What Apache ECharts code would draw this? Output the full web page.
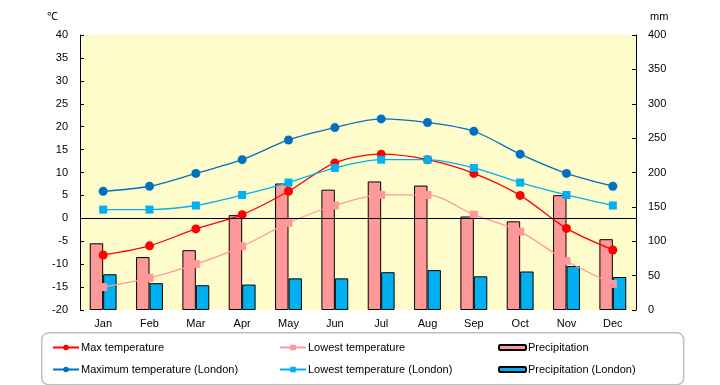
<!DOCTYPE html>
<html><head><meta charset="utf-8">
<script src="https://cdn.jsdelivr.net/npm/echarts@6/dist/echarts.min.js"></script>
<style>html,body{margin:0;padding:0;background:#fff}#c{width:720px;height:385px}</style>
</head><body><div id="c"></div>
<script>
const months = ['Jan','Feb','Mar','Apr','May','Jun','Jul','Aug','Sep','Oct','Nov','Dec'];
const maxTemp = [-8, -6, -2.3, 0.8, 5.9, 12.1, 14.0, 12.8, 9.8, 5.0, -2.2, -6.9];
const lowTemp = [-15, -13, -10, -6.1, -1.0, 2.8, 5.1, 5.1, 0.8, -2.9, -9.3, -14.3];
const precip = [97, 77, 87, 138, 184, 175, 187, 181, 136, 129, 167, 103];
const maxLondon = [5.9, 7.0, 9.8, 12.8, 17.1, 19.8, 21.7, 20.9, 19.0, 14.0, 9.8, 7.0];
const lowLondon = [1.9, 1.9, 2.8, 5.1, 7.8, 11.0, 12.8, 12.8, 11.0, 7.8, 5.1, 2.8];
const precipLondon = [52, 39, 36, 37, 46, 46, 55, 58, 49, 56, 64, 48];
const tempTicks = {min: -20, max: 40, interval: 5};
const precipTicks = {min: 0, max: 400, interval: 50};

const font = 'sans-serif';
const chart = echarts.init(document.getElementById('c'));
function lg(name, left, top, isBar) {
  return {
    data: [name], left: left, top: top, itemGap: 0, padding: 0,
    itemWidth: isBar ? 27 : 26, itemHeight: isBar ? 5 : 7,
    textStyle: {fontSize: 11, color: '#000', fontFamily: font, padding: [0,0,0,-3]},
    selectedMode: false
  };
}
chart.setOption({
  animation: false,
  graphic: [
    {type: 'rect', left: 41, top: 332, shape: {width: 642, height: 52, r: 7},
     style: {fill: '#fff', stroke: '#c0c0c0', lineWidth: 1.5}, z: -1},
    {type: 'text', left: 47, top: 11, style: {text: '℃', fontSize: 11, fill: '#000', fontFamily: font}},
    {type: 'text', left: 650, top: 11, style: {text: 'mm', fontSize: 11, fill: '#000', fontFamily: font}}
  ],
  grid: {left: 80, right: 84, top: 35, bottom: 75, show: true, backgroundColor: '#FFFCCB', borderWidth: 0},
  legend: [
    lg('Max temperature', 52, 342, false),
    lg('Lowest temperature', 279, 342, false),
    lg('Precipitation', 498, 342, true),
    lg('Maximum temperature (London)', 52, 364, false),
    lg('Lowest temperature (London)', 279, 364, false),
    lg('Precipitation (London)', 498, 364, true)
  ],
  xAxis: {
    type: 'category', data: months,
    axisLine: {show: false}, axisTick: {show: false},
    axisLabel: {color: '#000', fontSize: 11, fontFamily: font, margin: 8}
  },
  yAxis: [
    {type: 'value', min: tempTicks.min, max: tempTicks.max, interval: tempTicks.interval,
     axisLine: {show: true, lineStyle: {color: '#000'}},
     axisTick: {show: true, inside: true, length: 4, lineStyle: {color: '#000'}},
     splitLine: {show: false},
     axisLabel: {color: '#000', fontSize: 11, fontFamily: font, margin: 12}},
    {type: 'value', min: precipTicks.min, max: precipTicks.max, interval: precipTicks.interval,
     axisLine: {show: true, lineStyle: {color: '#000'}},
     axisTick: {show: true, inside: true, length: 4, lineStyle: {color: '#000'}},
     splitLine: {show: false},
     axisLabel: {color: '#000', fontSize: 11, fontFamily: font, margin: 12}}
  ],
  series: [
    {name: 'Precipitation', type: 'bar', yAxisIndex: 1, data: precip, barGap: '0%', barCategoryGap: '42%',
     itemStyle: {color: '#FF9999', borderColor: '#000', borderWidth: 1}, z: 1},
    {name: 'Precipitation (London)', type: 'bar', yAxisIndex: 1, data: precipLondon,
     itemStyle: {color: '#00B0F0', borderColor: '#000', borderWidth: 1}, z: 1},
    {name: 'Lowest temperature', type: 'line', data: lowTemp, smooth: 0.3,
     symbol: 'rect', symbolSize: 8, lineStyle: {color: '#FF9999', width: 1.3},
     itemStyle: {color: '#FF9999'}, z: 3,
     markLine: {silent: true, symbol: 'none', label: {show: false},
       lineStyle: {color: '#000', width: 1, type: 'solid'}, data: [{yAxis: 0}], animation: false}},
    {name: 'Max temperature', type: 'line', data: maxTemp, smooth: 0.3,
     symbol: 'circle', symbolSize: 9, lineStyle: {color: '#FF0000', width: 1.3},
     itemStyle: {color: '#FF0000'}, z: 4},
    {name: 'Lowest temperature (London)', type: 'line', data: lowLondon, smooth: 0.3,
     symbol: 'rect', symbolSize: 8, lineStyle: {color: '#00B0F0', width: 1.3},
     itemStyle: {color: '#00B0F0'}, z: 4},
    {name: 'Maximum temperature (London)', type: 'line', data: maxLondon, smooth: 0.3,
     symbol: 'circle', symbolSize: 9, lineStyle: {color: '#0070C0', width: 1.3},
     itemStyle: {color: '#0070C0'}, z: 4}
  ]
});
</script></body></html>
